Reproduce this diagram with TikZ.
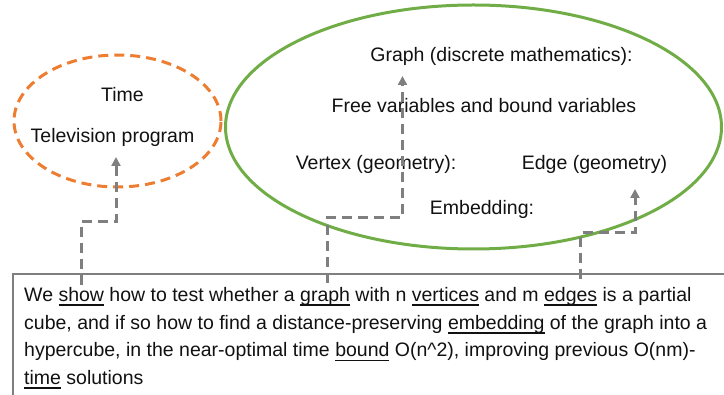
\documentclass[tikz,border=0pt]{standalone}
\usepackage{fontspec}
\setmainfont{Liberation Sans}
\usetikzlibrary{shapes.geometric,arrows.meta}
\definecolor{orng}{HTML}{ED7D31}
\definecolor{grn}{HTML}{70AD47}
\definecolor{gry}{HTML}{7F7F7F}
\definecolor{txt}{HTML}{111111}
\newcommand{\myul}[1]{\setbox0\hbox{#1}\rlap{\rule[-4.2pt]{\wd0}{1.6pt}}\box0\relax}
\begin{document}
\begin{tikzpicture}[x=1pt,y=-1pt,
  font=\fontsize{19.5}{27}\selectfont,
  lbl/.style={anchor=base, inner sep=0pt, text=txt},
  line/.style={anchor=base west, inner sep=0pt, text=txt},
  conn/.style={gry, line width=3pt, dash pattern=on 10pt off 6pt, -{Triangle[length=9pt,width=9pt]}},
  ovalorange/.style={ellipse, draw=orng, line width=3pt, dash pattern=on 10pt off 6pt, inner sep=0pt},
  ovalgreen/.style={ellipse, draw=grn, line width=3pt, inner sep=0pt},
  textbox/.style={draw=gry, line width=2.5pt}]
\useasboundingbox (0,0) rectangle (724,395);
\clip (0,0) rectangle (724,395);
% ellipses
\node[ovalorange, minimum width=207pt, minimum height=132pt] (tvell) at (117.5,121) {};
\node[ovalgreen, minimum width=496pt, minimum height=244pt] (grell) at (473.5,127) {};
% labels
\node[lbl] (time) at (122.5,102) {Time};
\node[lbl] (tvp) at (112.5,143) {Television program};
\node[lbl] (graph) at (501.5,62) {Graph (discrete mathematics):};
\node[lbl] (free) at (484,113) {Free variables and bound variables};
\node[lbl] (vertex) at (376,170) {Vertex (geometry):};
\node[lbl] (edge) at (594.5,170) {Edge (geometry)};
\node[lbl] (embed) at (482,215) {Embedding:};
% text box
\draw[textbox] (13,274) rectangle (760,430);
\node[line] (l1) at (24,301.7) {We \myul{show} how to test whether a \myul{graph} with n \myul{vertices} and m \myul{edges} is a partial};
\node[line] (l2) at (24,329.4) {cube, and if so how to find a distance-preserving \myul{embedding} of the graph into a};
\node[line] (l3) at (24,357) {hypercube, in the near-optimal time \myul{bound} O(n\textasciicircum 2), improving previous O(nm)-};
\node[line] (l4) at (24,384.6) {\myul{time} solutions};
% connector ends
\coordinate (s1) at (81,285);
\coordinate (s2) at (327.5,283);
\coordinate (s3) at (580.5,279);
\coordinate (t1) at (116,157);
\coordinate (t2) at (402.5,76);
\coordinate (t3) at (635,189);
% connectors
\draw[conn] (s1) -- (81,222) -| (t1);
\draw[conn] (s2) -- (327.5,217.5) -| (t2);
\draw[conn] (s3) -- (580.5,233) -| (t3);
\end{tikzpicture}
\end{document}
